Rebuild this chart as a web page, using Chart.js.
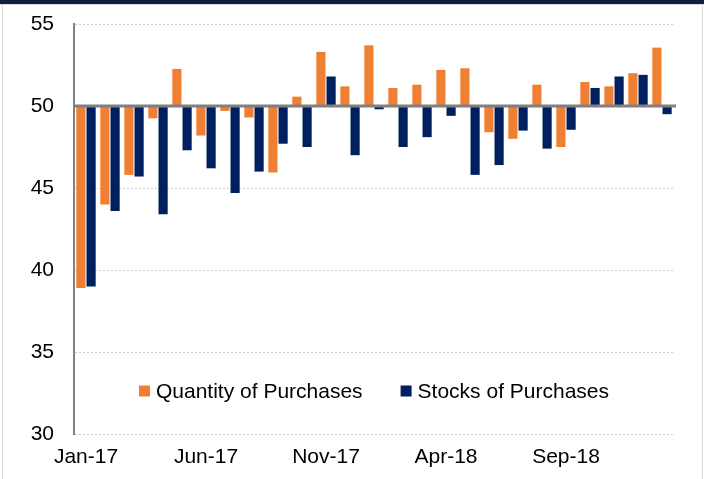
<!DOCTYPE html>
<html>
<head>
<meta charset="utf-8">
<script src="https://cdn.jsdelivr.net/npm/chart.js@4"></script>
<style>
  body { margin: 0; background: #fff; }
  #wrap { position: relative; width: 704px; height: 479px; }
  #topbar { position: absolute; left: 0; top: 0; width: 704px; height: 4px; background: #131c40; }
  #topline { position: absolute; left: 0; top: 4px; width: 704px; height: 1px; background: #d9d9d9; }
  #lb { position: absolute; left: 2px; top: 5px; width: 1px; height: 474px; background: #d9d9d9; }
  #rb { position: absolute; left: 702px; top: 5px; width: 1px; height: 474px; background: #d9d9d9; }
  canvas { position: absolute; left: 0; top: 0; }
</style>
</head>
<body>
<div id="wrap">
  <canvas id="purchasescanvas" width="704" height="479"></canvas>
  <div id="topbar"></div><div id="topline"></div><div id="lb"></div><div id="rb"></div>
</div>
<script>
var months = ['Jan-17','Feb-17','Mar-17','Apr-17','May-17','Jun-17','Jul-17','Aug-17','Sep-17','Oct-17','Nov-17','Dec-17',
              'Jan-18','Feb-18','Mar-18','Apr-18','May-18','Jun-18','Jul-18','Aug-18','Sep-18','Oct-18','Nov-18','Dec-18','Jan-19'];
var quantity = [38.9, 44.0, 45.8, 49.25, 52.26, 48.2, 49.7, 49.3, 45.95, 50.57, 53.3, 51.2,
                53.7, 51.1, 51.3, 52.2, 52.3, 48.4, 48.0, 51.3, 47.5, 51.46, 51.2, 52.0, 53.56];
var stocks = [39.0, 43.6, 45.7, 43.4, 47.3, 46.2, 44.7, 46.0, 47.7, 47.5, 51.8, 47.0,
              49.8, 47.5, 48.1, 49.4, 45.8, 46.4, 48.5, 47.4, 48.55, 51.1, 51.8, 51.9, 49.5];
var baseline = 50;

var font = 'Arial, "Liberation Sans", sans-serif';

// 50 line and legend inside the plot
var extras = {
  id: 'extras',
  afterDatasetsDraw: function(chart) {
    var ctx = chart.ctx, a = chart.chartArea;
    var y = chart.scales.y.getPixelForValue(baseline);
    ctx.save();
    ctx.strokeStyle = '#808080';
    ctx.lineWidth = 3;
    ctx.beginPath();
    ctx.moveTo(a.left, y);
    ctx.lineTo(a.right + 2, y);
    ctx.stroke();

    ctx.font = '21px ' + font;
    ctx.textBaseline = 'middle';
    var items = chart.data.datasets.map(function(d) { return { label: d.label, color: d.backgroundColor }; });
    var gap = 38, box = 11, tpad = 6;
    var total = 0;
    items.forEach(function(it, i) {
      it.w = box + tpad + ctx.measureText(it.label).width;
      total += it.w + (i ? gap : 0);
    });
    var x = (a.left + a.right) / 2 - total / 2;
    var ly = a.top + 367;
    items.forEach(function(it) {
      ctx.fillStyle = it.color;
      ctx.fillRect(x, ly - 5.5, box, box);
      ctx.fillStyle = '#000';
      ctx.fillText(it.label, x + box + tpad, ly + 1);
      x += it.w + gap;
    });
    ctx.restore();
  }
};

var ctx = document.getElementById('purchasescanvas');
var chart = new Chart(ctx, {
  type: 'bar',
  data: {
    labels: months,
    datasets: [
      {
        label: 'Quantity of Purchases',
        backgroundColor: '#ef7f33',
        data: quantity.map(function(v) { return [baseline, v]; })
      },
      {
        label: 'Stocks of Purchases',
        backgroundColor: '#001f5f',
        data: stocks.map(function(v) { return [baseline, v]; })
      }
    ]
  },
  options: {
    responsive: false,
    animation: false,
    categoryPercentage: 0.85,
    barPercentage: 0.9,
    layout: { padding: { left: 0, right: 30, top: 24, bottom: 0 } },
    plugins: { legend: { display: false }, tooltip: { enabled: false } },
    scales: {
      x: {
        grid: { display: false, drawTicks: false },
        border: { display: false },
        afterFit: function(s) { s.height = 45; s.paddingLeft = 0; s.paddingRight = 0; },
        ticks: {
          autoSkip: false,
          maxRotation: 0,
          padding: 11,
          color: '#000',
          font: { family: font, size: 21 },
          callback: function(v, i) { return i % 5 === 0 ? months[i] : ''; }
        }
      },
      y: {
        min: 30,
        max: 55,
        afterFit: function(s) { s.width = 74; s.paddingTop = 0; s.paddingBottom = 0; },
        grid: {
          drawTicks: false,
          lineWidth: 1,
          color: function(c) { return c.tick && c.tick.value === baseline ? 'rgba(0,0,0,0)' : '#d0d0d0'; }
        },
        border: { display: true, color: '#808080', width: 2, dash: [2, 2] },
        ticks: {
          stepSize: 5,
          padding: 20,
          color: '#000',
          font: { family: font, size: 21 }
        }
      }
    }
  },
  plugins: [extras]
});
</script>
</body>
</html>
